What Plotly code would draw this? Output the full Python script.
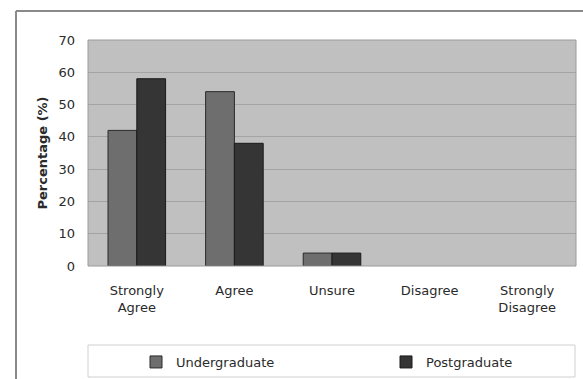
import plotly.graph_objects as go

categories = ["Strongly<br>Agree", "Agree", "Unsure", "Disagree", "Strongly<br>Disagree"]
undergraduate = [42, 54, 4, 0, 0]
postgraduate = [58, 38, 4, 0, 0]
y_ticks = [0, 10, 20, 30, 40, 50, 60, 70]

W, H = 583, 379
L, R, T, B = 88, 7, 40, 113
pw, ph = W - L - R, H - T - B


def px(x):
    return (x - L) / pw


def py(y):
    return (H - B - y) / ph


FAMILY = "DejaVu Sans, Verdana, sans-serif"
font = dict(family=FAMILY, size=13, color="#2a2a2a")

fig = go.Figure()
fig.add_trace(go.Bar(
    name="Undergraduate", x=categories, y=undergraduate, legend="legend",
    marker=dict(color="#6e6e6e",
                line=dict(color="#2a2a2a", width=[1 if v else 0 for v in undergraduate])),
))
fig.add_trace(go.Bar(
    name="Postgraduate", x=categories, y=postgraduate, legend="legend2",
    marker=dict(color="#353535",
                line=dict(color="#1a1a1a", width=[1 if v else 0 for v in postgraduate])),
))

shapes = [
    # outer frame (top and left edges)
    dict(type="line", xref="paper", yref="paper", x0=px(16), x1=px(W + 5),
         y0=py(11), y1=py(11), line=dict(color="#8a8a8a", width=2)),
    dict(type="line", xref="paper", yref="paper", x0=px(16), x1=px(16),
         y0=py(11), y1=py(H + 5), line=dict(color="#8a8a8a", width=2)),
    # legend box
    dict(type="rect", xref="paper", yref="paper", x0=px(88), x1=px(575),
         y0=py(345), y1=py(377), line=dict(color="#d0d0d0", width=1),
         fillcolor="white", layer="below"),
]

legend_common = dict(
    orientation="h", yanchor="middle", y=py(362), xanchor="left",
    bgcolor="rgba(0,0,0,0)", borderwidth=0, itemwidth=30,
    font=font,
)

fig.update_layout(
    width=W, height=H,
    margin=dict(l=L, r=R, t=T, b=B, autoexpand=False),
    paper_bgcolor="white",
    plot_bgcolor="#c0c0c0",
    font=font,
    barmode="group",
    bargap=0.41,
    bargroupgap=0,
    showlegend=True,
    legend=dict(legend_common, x=px(136)),
    legend2=dict(legend_common, x=px(386)),
    xaxis=dict(
        showgrid=False, zeroline=False, showline=False,
        ticks="outside", ticklen=12, tickcolor="rgba(0,0,0,0)",
        tickfont=font,
    ),
    yaxis=dict(
        range=[0, 70], tickvals=y_ticks, showgrid=True, gridcolor="#a4a4a4", gridwidth=1,
        zeroline=False, showline=False, ticks="", ticklabelstandoff=12,
        tickfont=font,
        title=dict(text="<b>Percentage (%)</b>", font=font, standoff=7),
    ),
    shapes=shapes,
)

# plot-area border
fig.add_shape(type="rect", xref="paper", yref="paper", x0=0, x1=1, y0=0, y1=1,
              line=dict(color="#9a9a9a", width=1), layer="above")

fig.write_html("out.html")
